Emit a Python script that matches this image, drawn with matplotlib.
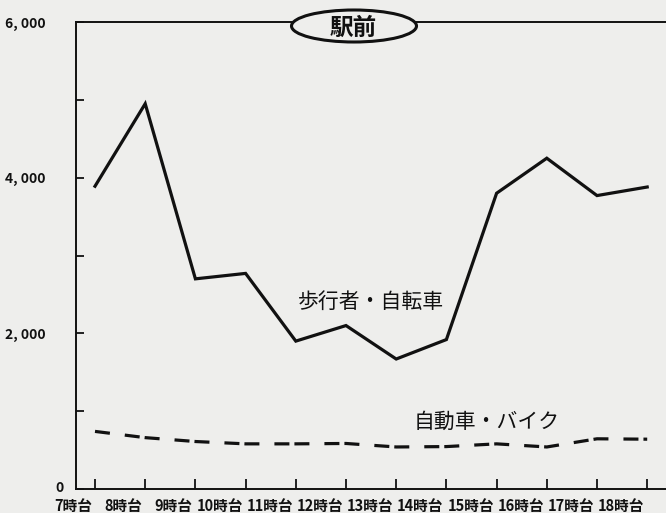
import matplotlib
matplotlib.use("Agg")
import matplotlib.pyplot as plt
from matplotlib.patches import Ellipse
import matplotlib.transforms as mtransforms
import numpy as np

# データ
hours = ["7時台", "8時台", "9時台", "10時台", "11時台", "12時台",
         "13時台", "14時台", "15時台", "16時台", "17時台", "18時台"]
pedestrians = [3890, 4950, 2700, 2770, 1900, 2100, 1670, 1920, 3800, 4250, 3770, 3880]
vehicles = [740, 660, 610, 580, 580, 585, 540, 545, 580, 540, 645, 640]
y_major = [0, 2000, 4000, 6000]
y_labels = ["0", "2, 000", "4, 000", "6, 000"]
y_minor = [1000, 3000, 5000]

jp_font = ["Noto Sans CJK JP", "DejaVu Sans"]

bg = "#eeeeec"
W, H = 666, 513
fig = plt.figure(figsize=(W / 100, H / 100), dpi=100, facecolor=bg)

# 軸の位置（ピクセルで決める）
x0_px, spacing = 95, 50.2
left_px, top_px, bottom_px = 76, 22, 489
xmin = (left_px - x0_px) / spacing
xmax = 11.6
right_px = x0_px + xmax * spacing
ax = fig.add_axes([left_px / W, (H - bottom_px) / H,
                   (right_px - left_px) / W, (bottom_px - top_px) / H])
ax.set_facecolor(bg)

x = np.arange(len(hours))
ax.plot(x, pedestrians, color="#111111", lw=2.3, solid_joinstyle="miter")
plt.rcParams["lines.scale_dashes"] = False
line2, = ax.plot(x, vehicles, color="#111111", lw=2.3)
line2.set_dashes((10.8, 10.8, 10.8, 3.6))

ax.set_xlim(xmin, xmax)
ax.set_ylim(0, 6000)

for s in ax.spines.values():
    s.set_linewidth(1.4)
    s.set_color("#111111")
ax.spines["right"].set_visible(False)

ax.set_xticks(x)
ax.set_xticklabels(hours, fontfamily=jp_font, fontweight="bold", fontsize=10.5)
ax.tick_params(axis="x", direction="in", length=7, width=1.3, pad=6.5, colors="#111111")
off = mtransforms.ScaledTranslation(-2 / 72, 0, fig.dpi_scale_trans)
for lab in ax.get_xticklabels():
    lab.set_ha("right")
    lab.set_transform(lab.get_transform() + off)

ax.set_yticks(y_major)
ax.set_yticklabels(y_labels, fontfamily=jp_font, fontweight="bold", fontsize=10)
ax.set_yticks(y_minor, minor=True)
ax.tick_params(axis="y", which="both", direction="in", length=6, width=1.3,
               pad=22, colors="#111111")
ylabs = ax.get_yticklabels()
off0 = mtransforms.ScaledTranslation(13 / 72, 1.5 / 72, fig.dpi_scale_trans)
ylabs[0].set_transform(ylabs[0].get_transform() + off0)

# 系列名
ax.text(5.5, 2410, "歩行者・自転車", fontfamily=jp_font, fontsize=15,
        ha="center", va="center", color="#111111")
ax.text(7.8, 860, "自動車・バイク", fontfamily=jp_font, fontsize=15,
        ha="center", va="center", color="#111111")

# タイトル（楕円）
fig.add_artist(Ellipse((354 / W, (H - 26) / H), 125 / W, 32 / H,
                       transform=fig.transFigure, facecolor=bg,
                       edgecolor="#111111", lw=2.2, zorder=5))
fig.text(353 / W, (H - 28) / H, "駅前", fontfamily=jp_font, fontweight="bold",
         fontsize=17, ha="center", va="center", color="#111111", zorder=6)

fig.savefig("out.png", dpi=100, facecolor=bg)
